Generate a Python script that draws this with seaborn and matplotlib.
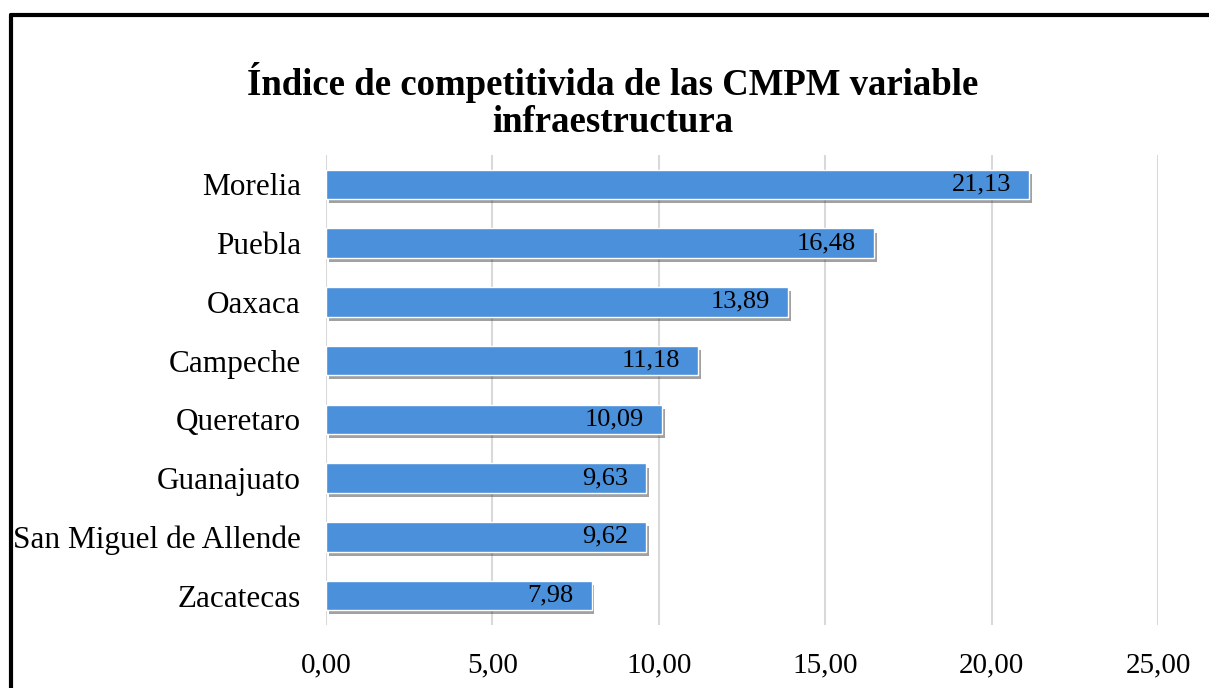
import matplotlib
matplotlib.use('Agg')
import matplotlib.pyplot as plt
import matplotlib.patheffects as pe
from matplotlib.ticker import FuncFormatter
from matplotlib.lines import Line2D
import seaborn as sns
import pandas as pd

ciudades = ['Morelia', 'Puebla', 'Oaxaca', 'Campeche', 'Queretaro',
            'Guanajuato', 'San Miguel de Allende', 'Zacatecas']
valores = [21.13, 16.48, 13.89, 11.18, 10.09, 9.63, 9.62, 7.98]
titulo = 'Índice de competitivida de las CMPM variable\ninfraestructura'

df = pd.DataFrame({'ciudad': ciudades, 'valor': valores})

sns.set_style('white')
plt.rcParams['font.family'] = ['Liberation Serif', 'DejaVu Serif']
plt.rcParams['text.color'] = 'black'

fig = plt.figure(figsize=(12.09, 6.88), dpi=100)
ax = fig.add_axes([0.2696, 0.0916, 0.6882, 0.6831])

sns.barplot(data=df, x='valor', y='ciudad', orient='h', color='#4a90da',
            width=0.5, saturation=1, ax=ax)
for p in ax.patches:
    p.set_path_effects([pe.SimplePatchShadow(offset=(2, -3), shadow_rgbFace='#444444', alpha=0.5),
                        pe.Normal()])

for i, v in enumerate(valores):
    ax.annotate(f'{v:.2f}'.replace('.', ','), (v, i), xytext=(-13, 0),
                textcoords='offset points', ha='right', va='center',
                fontsize=19, color='black')

ax.set_xlim(0, 25)
ax.set_ylim(7.5, -0.5)
ax.set_xticks([0, 5, 10, 15, 20, 25])
ax.xaxis.set_major_formatter(FuncFormatter(lambda x, _: f'{x:.2f}'.replace('.', ',')))
ax.grid(axis='x', color='#d9d9d9', linewidth=1.5)
ax.set_axisbelow(True)
for s in ax.spines.values():
    s.set_visible(False)
ax.tick_params(axis='both', length=0, colors='black')
ax.tick_params(axis='x', pad=20, labelsize=21)
ax.tick_params(axis='y', pad=18, labelsize=22.5)
ax.set_xlabel('')
ax.set_ylabel('')

fig.text(0.507, 0.853, titulo, ha='center', va='center', fontsize=26.5,
         fontweight='bold', linespacing=1.1, color='black')

fig.add_artist(Line2D([0.0092, 1.0], [0.9775, 0.9775], color='black', linewidth=3))
fig.add_artist(Line2D([0.0092, 0.0092], [0.0, 0.9775], color='black', linewidth=3))

fig.savefig('out.png', dpi=100)
